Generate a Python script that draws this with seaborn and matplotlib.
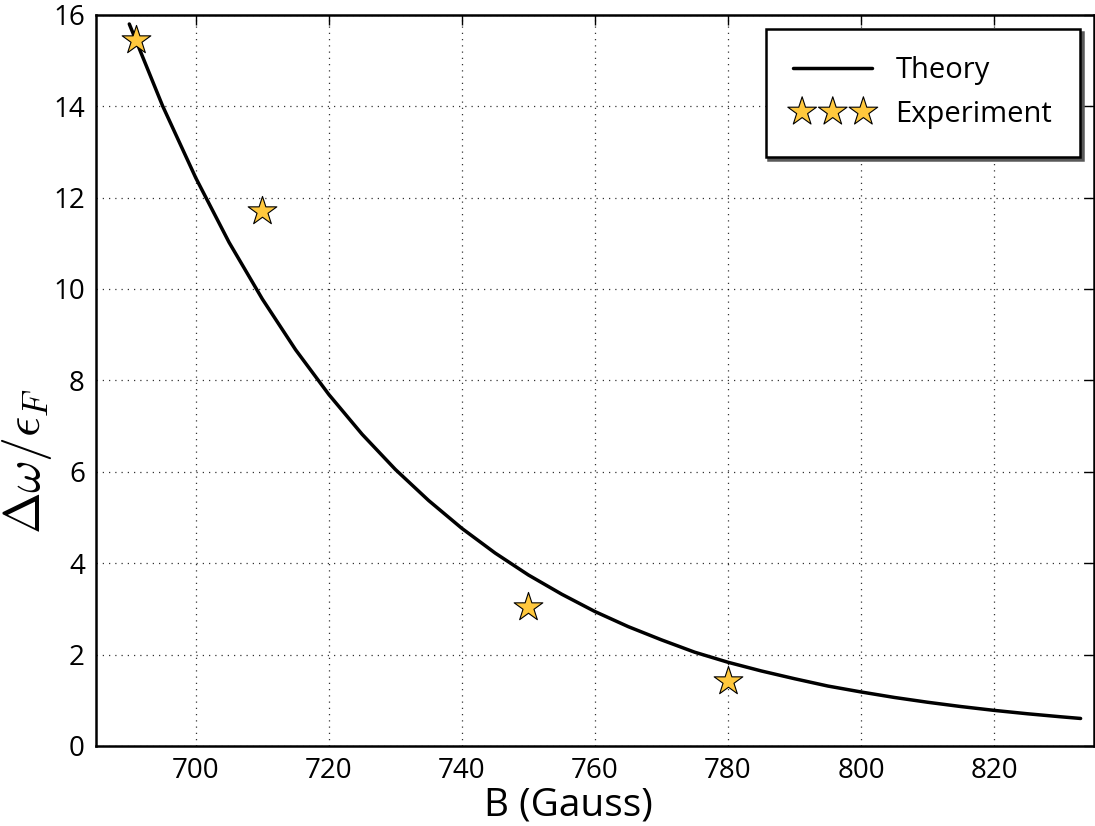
import matplotlib
matplotlib.use("Agg")
import matplotlib.pyplot as plt
import pandas as pd
import seaborn as sns

# Theory curve: frequency shift vs magnetic field
theory_B = [690, 695, 700, 705, 710, 715, 720, 725, 730, 735, 740, 745, 750,
            755, 760, 765, 770, 775, 780, 785, 790, 795, 800, 805, 810, 815,
            820, 825, 830, 833]
theory_y = [15.80, 14.01, 12.43, 11.02, 9.78, 8.67, 7.69, 6.82, 6.05, 5.37,
            4.76, 4.22, 3.74, 3.32, 2.94, 2.61, 2.32, 2.05, 1.83, 1.64, 1.47,
            1.31, 1.18, 1.06, 0.955, 0.861, 0.777, 0.703, 0.637, 0.600]

# Measured points
exp_B = [691, 710, 750, 780]
exp_y = [15.45, 11.7, 3.03, 1.43]

x_ticks = [700, 720, 740, 760, 780, 800, 820]
y_ticks = [0, 2, 4, 6, 8, 10, 12, 14, 16]

sns.set_style("white")
plt.rcParams["font.family"] = ["Open Sans", "DejaVu Sans"]
plt.rcParams["mathtext.fontset"] = "cm"
for key in ("text.color", "axes.labelcolor", "xtick.color", "ytick.color"):
    plt.rcParams[key] = "black"

theory = pd.DataFrame({"B": theory_B, "y": theory_y})
exper = pd.DataFrame({"B": exp_B, "y": exp_y})

fig = plt.figure(figsize=(10.95, 8.26), dpi=100)
ax = fig.add_axes([0.0877, 0.097, 0.9113, 0.885])

sns.lineplot(data=theory, x="B", y="y", ax=ax, color="black", lw=2.5,
             label="Theory", zorder=2)
sns.scatterplot(data=exper, x="B", y="y", ax=ax, marker="*", s=470,
                color="#FFC83D", edgecolor="black", linewidth=0.8,
                label="Experiment", zorder=3)

ax.set_xlim(685, 835)
ax.set_ylim(0, 16)
ax.set_xticks(x_ticks)
ax.set_yticks(y_ticks)
ax.grid(True, color="black", linestyle=(0, (1, 4)), linewidth=0.9, alpha=0.8)
ax.tick_params(direction="in", length=7, width=1, top=True, right=True,
               labelsize=20, pad=8, colors="black")
for sp in ax.spines.values():
    sp.set_visible(True)
    sp.set_color("black")
    sp.set_linewidth(1.8)

ax.set_xlabel("B (Gauss)", fontsize=28, va="center", ha="center")
ax.set_ylabel(r"$\Delta\omega/\epsilon_F$", fontsize=36, va="center", ha="center")
ax.xaxis.set_label_coords(0.473, -0.082)
ax.yaxis.set_label_coords(-0.069, 0.39)

leg = ax.legend(loc="upper right", scatterpoints=3, scatteryoffsets=[0.5],
                fontsize=21, frameon=True, fancybox=False,
                shadow={"color": "0.35", "alpha": 1}, framealpha=1,
                edgecolor="black", handlelength=2.7, handletextpad=0.8,
                borderpad=0.95, labelspacing=0.5, borderaxespad=0,
                bbox_to_anchor=(0.986, 0.981))
leg.get_frame().set_linewidth(1.8)

fig.savefig("out.png", dpi=100)
